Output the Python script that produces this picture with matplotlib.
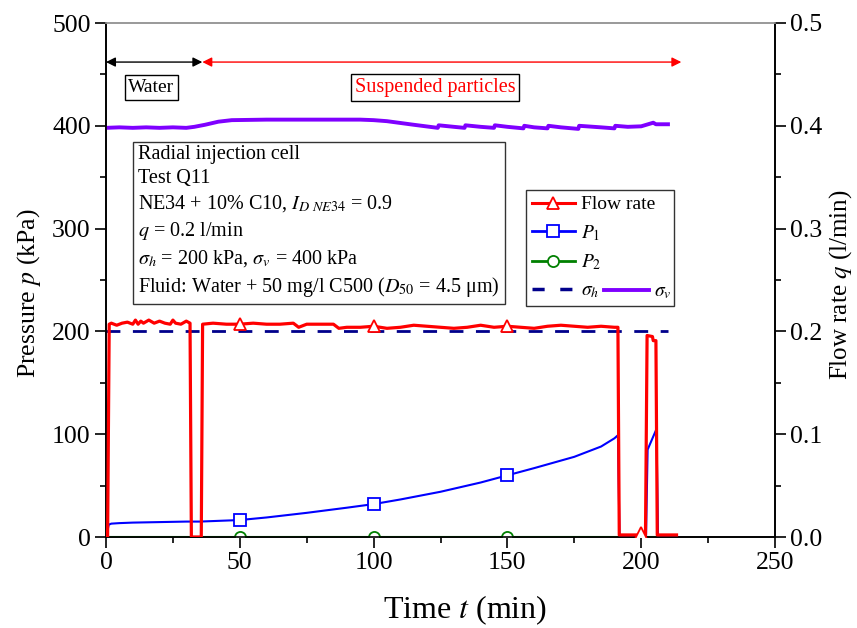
import matplotlib
matplotlib.use("Agg")
import matplotlib.pyplot as plt
from matplotlib.lines import Line2D
from matplotlib.patches import Rectangle
from matplotlib.transforms import Bbox
from matplotlib.ticker import MultipleLocator, FormatStrFormatter

plt.rcParams["font.family"] = ["Liberation Serif", "DejaVu Serif"]
plt.rcParams["mathtext.fontset"] = "stix"

# ---- flow rate q (l/min) ----
time_flow = [0, 0.6, 1.2, 2, 4, 6, 8, 10, 11, 12, 13, 14, 16, 18, 20, 22, 24, 25, 26,
             28, 30, 31.4, 31.9, 35.6, 36.1, 40, 45, 50, 55, 60, 65, 70, 72, 75, 80,
             85, 87, 90, 95, 100, 105, 110, 115, 120, 125, 130, 135, 140, 145, 150,
             155, 160, 165, 170, 175, 180, 185, 190, 191.3, 191.8, 199.4, 200, 200.8,
             201.6, 202.2, 204.2, 204.5, 205.5, 206.0, 213.2]
flow = [0.005, 0.0, 0.207, 0.208, 0.206, 0.208, 0.209, 0.207, 0.211, 0.207, 0.210,
        0.208, 0.211, 0.208, 0.210, 0.208, 0.207, 0.211, 0.208, 0.207, 0.210, 0.208,
        0.0, 0.0, 0.207, 0.208, 0.207, 0.207, 0.208, 0.207, 0.207, 0.208, 0.204,
        0.207, 0.207, 0.207, 0.203, 0.204, 0.204, 0.205, 0.203, 0.204, 0.206, 0.205,
        0.204, 0.203, 0.204, 0.206, 0.204, 0.205, 0.204, 0.203, 0.205, 0.206, 0.205,
        0.204, 0.205, 0.204, 0.204, 0.002, 0.002, 0.004, 0.002, 0.002, 0.196, 0.195,
        0.191, 0.191, 0.002, 0.002]
flow_marks = [50, 100, 150, 200]

# ---- pore pressure P1, P2 (kPa) ----
time_p1 = [0, 0.5, 1.0, 2, 5, 10, 20, 30, 35, 40, 50, 60, 75, 90, 100, 110, 125,
           140, 150, 160, 175, 185, 190, 191.3, 191.9, 201.8, 202.4, 205.7, 206.3, 213]
p1 = [0, 5, 12, 13, 13.5, 14, 14.5, 15, 15, 15.5, 16.5, 19, 23.5, 28.5, 32, 36.5,
      44, 53, 60, 67, 78, 88, 96, 99, 0, 0, 85, 105, 0, 0]
time_p2 = [0, 50, 100, 150, 213]
p2 = [0, 0, 0, 0, 0]
pressure_marks = [50, 100, 150]

# ---- confining stresses (kPa) ----
time_sh = [0, 210]
sigma_h = [200, 200]
time_sv = [0, 5, 10, 15, 20, 25, 30, 33, 37, 42, 47, 60, 80, 95, 100, 105, 115,
           124, 124.3, 130, 134, 134.3, 140, 145, 145.3, 150, 156, 156.3, 160, 165,
           165.3, 170, 176.5, 176.8, 185, 190, 190.3, 195, 200, 204.5, 205.5, 210]
sigma_v = [398, 398.5, 398, 398.5, 398, 398.5, 398, 399, 401, 404, 405.5, 406, 406,
           406, 405.5, 404.5, 401, 398, 400.5, 399, 398, 400.5, 399, 398, 400.5, 399,
           397.5, 400, 398.5, 397.5, 400, 398.5, 397, 400, 398.5, 397.5, 400, 399,
           399.5, 403, 401.5, 401.5]

# ---- test phases ----
phase_water = (0, 36)
phase_particles = (36, 215)


def idx(times, marks):
    return [times.index(m) for m in marks]


RED, BLUE, GREEN, NAVY, VIOLET = "#ff0000", "#0000ff", "#008000", "#00008b", "#7f00ff"

fig = plt.figure(figsize=(8.57, 6.28), dpi=100)
ax = fig.add_axes([106 / 857, 1 - 537 / 628, 669 / 857, 514 / 628])
ax2 = ax.twinx()

ax.plot(time_sv, sigma_v, color=VIOLET, lw=2.8, zorder=3)
ax.plot(time_sh, sigma_h, color=NAVY, lw=2.0, dashes=(5, 4.5), zorder=3)
ax.plot(time_p2, p2, color=GREEN, lw=1.5, marker="o", markevery=idx(time_p2, pressure_marks),
        ms=8, mfc="white", mec=GREEN, mew=1.3, zorder=3)
ax.plot(time_p1, p1, color=BLUE, lw=1.5, marker="s", markevery=idx(time_p1, pressure_marks),
        ms=8, mfc="white", mec=BLUE, mew=1.3, zorder=4)
ax2.plot(time_flow, flow, color=RED, lw=2.3, marker="^", markevery=idx(time_flow, flow_marks),
         ms=9, mfc="white", mec=RED, mew=1.3, zorder=5)

ax.set_xlim(0, 250)
ax.set_ylim(0, 500)
ax2.set_ylim(0, 0.5)

ax.xaxis.set_major_locator(MultipleLocator(50))
ax.xaxis.set_minor_locator(MultipleLocator(25))
ax.yaxis.set_major_locator(MultipleLocator(100))
ax.yaxis.set_minor_locator(MultipleLocator(50))
ax2.yaxis.set_major_locator(MultipleLocator(0.1))
ax2.yaxis.set_minor_locator(MultipleLocator(0.05))
ax2.yaxis.set_major_formatter(FormatStrFormatter("%.1f"))

for a in (ax, ax2):
    a.tick_params(which="major", direction="out", length=8, width=1.2, labelsize=18.5, pad=3)
    a.tick_params(which="minor", direction="out", length=4, width=1.2)
    for s in a.spines.values():
        s.set_linewidth(1.2)
ax.spines["top"].set_color("#999999")
ax2.spines["top"].set_color("#999999")

ax.set_xlabel(r"Time $t$ (min)", fontsize=23)
ax.xaxis.set_label_coords(0.537, -0.11)
ax.set_ylabel(r"Pressure $p$ (kPa)", fontsize=18.5)
ax.yaxis.set_label_coords(-0.094, 0.475)
ax2.set_ylabel(r"Flow rate $q$ (l/min)", fontsize=18)
ax2.yaxis.set_label_coords(1.078, 0.49)

# phase arrows and labels
y_arrow = 462
ax.annotate("", xy=(phase_water[0], y_arrow), xytext=(phase_water[1], y_arrow),
            arrowprops=dict(arrowstyle="<|-|>", color="black", lw=1.0,
                            mutation_scale=14, shrinkA=0, shrinkB=0))
ax.annotate("", xy=(phase_particles[0], y_arrow), xytext=(phase_particles[1], y_arrow),
            arrowprops=dict(arrowstyle="<|-|>", color=RED, lw=1.0,
                            mutation_scale=14, shrinkA=0, shrinkB=0))
ax.text(17, 437, "Water", fontsize=14, ha="center", va="center",
        bbox=dict(boxstyle="square,pad=0.2", fc="white", ec="black", lw=1))
ax.text(123, 437, "Suspended particles", fontsize=14.5, ha="center", va="center", color=RED,
        bbox=dict(boxstyle="square,pad=0.2", fc="white", ec="black", lw=1))

info = "\n".join([
    "Radial injection cell",
    "Test Q11",
    r"NE34 + 10% C10, $I_{D\ NE34}$ = 0.9",
    r"$q$ = 0.2 l/min",
    r"$\sigma_h$ = 200 kPa, $\sigma_v$ = 400 kPa",
    r"Fluid: Water + 50 mg/l C500 ($D_{\mathit{50}}$ = 4.5 μm)",
])
ax2.text(0.048, 0.763, info, transform=ax.transAxes, fontsize=14.5, ha="left", va="top",
         linespacing=1.36, zorder=10,
         bbox=dict(boxstyle="square,pad=0.25", fc="white", ec="#333333", lw=1))

# legend: four rows, the last row carries both sigma_h and sigma_v
handles = [
    Line2D([], [], color=RED, lw=2.2, marker="^", ms=9, mfc="white", mec=RED, mew=1.3),
    Line2D([], [], color=BLUE, lw=2.0, marker="s", ms=8, mfc="white", mec=BLUE, mew=1.3),
    Line2D([], [], color=GREEN, lw=2.0, marker="o", ms=8, mfc="white", mec=GREEN, mew=1.3),
    Line2D([], [], color=NAVY, lw=2.5, dashes=(3.5, 4.5)),
]
labels = ["Flow rate", r"$P_1$", r"$P_2$", r"$\sigma_h$"]
leg = ax2.legend(handles, labels, loc="upper left", bbox_to_anchor=(0.628, 0.675),
                 fontsize=14, frameon=False, handlelength=2.2, handletextpad=0.3,
                 labelspacing=0.5, borderpad=0.3, borderaxespad=0)
leg.set_zorder(10)
ax2.add_artist(leg)

fig.canvas.draw()
renderer = fig.canvas.get_renderer()
bb = leg.get_texts()[3].get_window_extent(renderer)
x0, y0 = ax.transAxes.inverted().transform((bb.x1 + 5, (bb.y0 + bb.y1) / 2))
leg2 = ax2.legend([Line2D([], [], color=VIOLET, lw=2.8)], [r"$\sigma_v$"],
                  loc="center left", bbox_to_anchor=(x0, y0), fontsize=14,
                  frameon=False, handlelength=2.3, handletextpad=0.3, borderpad=0,
                  borderaxespad=0)
leg2.set_zorder(11)

fig.canvas.draw()
b1 = leg.get_window_extent(renderer)
b2 = leg2.get_window_extent(renderer)
frame = Bbox.union([b1, b2])
fx0, fy0 = fig.transFigure.inverted().transform((frame.x0, frame.y0))
fx1, fy1 = fig.transFigure.inverted().transform((frame.x1 + 2, frame.y1))
fig.add_artist(Rectangle((fx0, fy0), fx1 - fx0, fy1 - fy0, transform=fig.transFigure,
                         fill=False, ec="#333333", lw=1, zorder=12))

fig.savefig("out.png", dpi=100)
